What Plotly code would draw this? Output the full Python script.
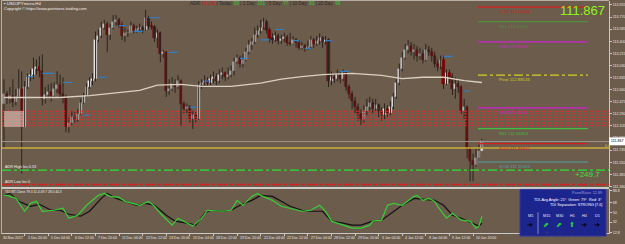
import plotly.graph_objects as go

# ------------------------------------------------------------------ DATA
first_open = 112.44
close_p = [112.59,112.52,112.56,112.47,112.55,112.67,112.09,112.70,112.85,112.88,
           112.97,113.00,112.94,112.52,112.58,112.62,112.56,112.67,112.73,112.59,
           112.55,112.09,112.15,112.24,112.20,112.29,112.45,112.56,112.70,112.79,
           112.82,113.42,113.48,113.61,113.67,113.50,113.61,113.70,113.73,113.65,
           113.48,113.52,113.53,113.64,113.56,113.59,113.61,113.58,113.76,113.64,
           113.62,113.45,113.52,113.20,113.23,112.64,112.67,112.74,112.70,112.79,
           112.44,112.36,112.39,112.21,112.27,112.21,112.73,112.76,112.79,112.76,
           112.82,112.85,112.79,112.88,112.91,112.85,112.89,112.94,113.09,113.15,
           113.05,113.12,113.24,113.35,113.39,113.50,113.55,113.61,113.70,113.58,
           113.45,113.42,113.48,113.41,113.44,113.47,113.38,113.36,113.42,113.38,
           113.30,113.33,113.29,113.32,113.42,113.36,113.41,113.45,113.39,113.42,
           112.79,112.85,112.82,112.88,112.83,112.91,112.70,112.59,112.48,112.39,
           112.29,112.21,112.33,112.39,112.45,112.36,112.42,112.33,112.27,112.36,
           112.30,112.39,112.55,112.76,112.97,113.15,113.27,113.33,113.24,113.27,
           113.18,113.21,113.12,113.27,113.24,113.18,113.06,113.00,113.12,112.74,
           112.91,112.85,112.67,112.74,112.70,112.33,112.39,111.76,111.57,111.51,
           111.61,111.73,111.87]
high_p = [112.82,112.64,112.70,112.82,112.67,112.97,112.94,112.79,112.91,112.97,
          113.15,113.12,113.17,113.20,112.70,112.74,112.76,112.77,112.94,112.89,
          112.85,112.58,112.24,112.33,112.32,112.36,112.52,112.61,112.76,112.85,
          112.91,113.55,113.58,113.70,113.73,113.70,113.67,113.80,113.80,113.76,
          113.70,113.61,113.58,113.70,113.67,113.64,113.67,113.64,113.88,113.79,
          113.70,113.65,113.58,113.55,113.27,113.24,112.82,112.85,112.82,112.88,
          112.82,112.48,112.45,112.42,112.33,112.32,112.79,112.82,112.88,112.85,
          112.89,112.94,112.91,112.97,113.00,112.94,113.00,113.03,113.15,113.20,
          113.18,113.21,113.30,113.42,113.45,113.61,113.64,113.73,113.76,113.73,
          113.61,113.52,113.55,113.52,113.50,113.53,113.50,113.53,113.48,113.45,
          113.42,113.39,113.36,113.41,113.48,113.45,113.48,113.52,113.48,113.48,
          113.45,112.94,112.91,112.97,112.94,112.97,112.94,112.74,112.64,112.55,
          112.45,112.36,112.42,112.52,112.55,112.52,112.52,112.45,112.39,112.45,
          112.42,112.48,112.61,112.82,113.06,113.24,113.36,113.42,113.39,113.36,
          113.33,113.30,113.27,113.36,113.33,113.30,113.24,113.12,113.18,113.18,
          112.97,112.97,112.91,112.85,112.82,112.73,112.52,112.42,111.79,111.68,
          111.76,111.82,111.91]
low_p = [111.76,112.44,112.45,112.39,112.42,112.52,111.38,112.09,112.67,112.79,
         112.82,112.89,112.85,112.42,112.45,112.52,112.48,112.55,112.61,112.52,
         112.45,112.01,112.00,112.12,112.14,112.17,112.27,112.44,112.55,112.67,
         112.73,112.79,113.39,113.45,113.58,113.24,113.42,113.58,113.64,113.61,
         113.42,113.39,113.47,113.52,113.52,113.53,113.55,113.52,113.56,113.58,
         113.58,113.39,113.30,113.08,113.15,112.55,112.58,112.64,112.61,112.67,
         112.11,112.30,112.30,112.15,112.06,112.15,112.20,112.67,112.70,112.70,
         112.73,112.76,112.73,112.76,112.82,112.79,112.82,112.85,112.88,113.06,
         113.00,113.00,113.09,113.20,113.27,113.36,113.45,113.52,113.58,113.52,
         113.38,113.36,113.39,113.35,113.36,113.39,113.33,113.33,113.35,113.30,
         113.27,113.27,113.24,113.27,113.29,113.30,113.33,113.35,113.30,113.35,
         112.70,112.73,112.76,112.79,112.76,112.79,112.64,112.52,112.36,112.30,
         112.18,112.12,112.15,112.27,112.33,112.30,112.33,112.24,112.18,112.21,
         112.24,112.27,112.36,112.52,112.73,112.94,113.12,113.21,113.18,113.12,
         113.09,113.12,113.06,113.09,113.18,113.09,113.00,112.94,112.97,112.67,
         112.73,112.76,112.58,112.52,112.61,112.29,112.21,111.61,111.26,111.26,
         111.48,111.61,111.76]

ma_idx = [0, 9, 19, 29, 40, 46, 52, 60, 67, 77, 87, 94, 101, 108, 118, 128, 135, 142, 149, 156, 162]
ma_val = [112.54, 112.54, 112.54, 112.57, 112.62, 112.65, 112.73, 112.74, 112.71, 112.71, 112.76,
          112.82, 112.86, 112.89, 112.91, 112.88, 112.83, 112.85, 112.85, 112.80, 112.77]

swing_start = [8, 13, 20, 27, 32, 39, 44, 49, 56, 63, 68, 80, 87, 92, 98, 102, 109, 114, 149, 156]
swing_end   = [10, 17, 23, 29, 35, 41, 47, 53, 59, 65, 70, 82, 90, 95, 100, 104, 111, 117, 152, 158]
swing_level = [112.86, 112.91, 112.77, 112.27, 112.85, 113.64, 113.55, 113.76, 113.23, 112.39,
               112.79, 113.14, 113.42, 113.58, 113.41, 113.29, 113.41, 112.94, 113.17, 112.64]

zone_levels = [112.33, 112.29, 112.24, 112.20, 112.15, 112.11]
bid_price = 111.867
gold_level = 111.77
adr_high_level = 111.43
adr_low_level = 111.21

piv_names  = ["R100", "R61", "R38", "Pivot", "S38", "S61", "S100", "S138"]
piv_values = [113.92148, 113.70108, 113.39109, 112.88133, 112.38159, 112.06303, 111.83610, 111.55433]
piv_colors = ["#d42020", "#4f8f3a", "#d020d0", "#d4d020", "#d020d0", "#3fbf3f", "#d42020", "#4aa0a0"]

tdi_black_idx = [0,2,5,9,12,16,19,22,26,29,33,35,38,41,45,48,51,55,58,62,65,68,70,74,77,80,84,87,91,94,
                 97,101,104,108,111,115,118,121,125,128,132,135,139,142,146,149,152,155,159,161,162]
tdi_black = [80.6,84.2,69.8,60.8,64.4,53.6,53.6,46.4,42.8,51.8,75.2,84.2,75.2,69.8,62.6,66.2,62.6,44.6,33.8,30.2,
             26.6,48.2,53.6,51.8,53.6,62.6,71.6,80.6,78.8,69.8,60.8,53.6,51.8,51.8,33.8,30.2,26.6,26.6,33.8,35.6,
             51.8,62.6,75.2,73.4,71.6,62.6,44.6,39.2,30.2,24.8,30.2]
tdi_green_idx = [0,1,4,7,9,11,13,17,20,22,25,28,32,34,36,39,41,44,46,49,51,53,57,59,61,64,67,69,74,77,79,81,
                 84,86,87,91,94,97,101,104,107,109,111,115,118,121,124,125,128,130,132,135,139,140,142,144,146,
                 147,150,152,155,158,160,161,162]
tdi_green = [80.6,80.6,75.2,51.8,66.2,69.8,51.8,53.6,57.2,39.2,44.6,62.6,80.6,84.2,78.8,77.0,69.8,66.2,62.6,69.8,
             60.8,48.2,26.6,39.2,33.8,24.8,39.2,53.6,51.8,53.6,71.6,62.6,78.8,84.2,80.6,71.6,60.8,57.2,51.8,53.6,
             62.6,51.8,33.8,26.6,21.2,21.2,26.6,33.8,35.6,62.6,66.2,62.6,78.8,80.6,71.6,75.2,69.8,60.8,39.2,48.2,
             35.6,33.8,21.2,24.8,42.8]

price_ticks = [113.955,113.770,113.585,113.400,113.215,113.030,112.845,112.660,112.475,112.290,
               112.105,111.920,111.735,111.550,111.365,111.180]
tdi_ticks = [88.8, 68.0, 50.0, 32.0, 12.8]
tdi_tick_text = ["88.8", "68", "50", "32", "12.8"]

date_idx = [7, 15, 23, 31, 39, 47, 55, 63, 71, 79, 87, 95, 103, 111, 119, 127, 135, 143, 151, 159]
date_text = ["1 Dec 20:00", "5 Dec 04:00", "6 Dec 12:00", "7 Dec 20:00", "11 Dec 04:00", "12 Dec 12:00",
             "13 Dec 20:00", "15 Dec 04:00", "18 Dec 12:00", "19 Dec 20:00", "21 Dec 04:00", "22 Dec 12:00",
             "27 Dec 04:00", "28 Dec 12:00", "29 Dec 20:00", "3 Jan 04:00", "4 Jan 12:00", "8 Jan 04:00",
             "9 Jan 12:00", "10 Jan 20:00"]

adr_parts = [("ADR: ", "#2a2a2a"), ("91.2%", "#d41818"), (" | Today: ", "#2a2a2a"), ("58", "#2ed12e"),
             (" | 1 Day: ", "#2a2a2a"), ("151", "#2ed12e"), (" | 5 Day: ", "#2a2a2a"), ("77", "#2ed12e"),
             (" | 10 Day: ", "#2a2a2a"), ("83", "#2ed12e"), (" | 20 Day: ", "#2a2a2a"), ("99", "#2ed12e")]

tf_names = ["M5", "M15", "M30", "H1", "H4", "D1"]
tf_arrows = ["➔", "⬈", "⬈", "⬆", "➔", "➔"]
tf_arrow_colors = ["#000000", "#2fd02f", "#2fd02f", "#2fd02f", "#000000", "#000000"]
tf_marks = ["+", "⊕", "⊘", "O", "O", "O"]

# ------------------------------------------------------------------ LAYOUT HELPERS
W, H = 625, 244
BG = "#6c5c4c"
FONT = "Liberation Sans, Arial, sans-serif"
SPACING = 2.95
X0PIX = 4.0
XR = [(2 - X0PIX) / SPACING, (609 - X0PIX) / SPACING]


def px(x):
    return x / W


def py(y):
    return 1 - y / H


open_p = [first_open] + close_p[:-1]
idx = list(range(len(close_p)))

fig = go.Figure()

# wicks
wx, wy = [], []
for i in idx:
    wx += [i, i, None]
    wy += [low_p[i], high_p[i], None]
fig.add_trace(go.Scatter(x=wx, y=wy, mode="lines", line=dict(color="#2b231d", width=1),
                         hoverinfo="skip", xaxis="x", yaxis="y"))

# bodies
up = [i for i in idx if close_p[i] >= open_p[i]]
dn = [i for i in idx if close_p[i] < open_p[i]]
fig.add_trace(go.Bar(x=up, base=[open_p[i] for i in up], y=[close_p[i] - open_p[i] for i in up],
                     width=0.72, marker=dict(color="#f4f4f4", line=dict(color="#b8b8b8", width=0.5)),
                     xaxis="x", yaxis="y"))
fig.add_trace(go.Bar(x=dn, base=[close_p[i] for i in dn], y=[open_p[i] - close_p[i] for i in dn],
                     width=0.72, marker=dict(color="#8a0808", line=dict(color="#5a0404", width=0.5)),
                     xaxis="x", yaxis="y"))

# moving average
fig.add_trace(go.Scatter(x=ma_idx, y=ma_val, mode="lines", line=dict(color="#d9d0c2", width=1.3),
                         xaxis="x", yaxis="y"))

# swing marks
sx, sy = [], []
for a, b, v in zip(swing_start, swing_end, swing_level):
    sx += [a, b, None]
    sy += [v, v, None]
fig.add_trace(go.Scatter(x=sx, y=sy, mode="lines", line=dict(color="#2f7fd0", width=1.2),
                         xaxis="x", yaxis="y"))

# TDI lines
fig.add_trace(go.Scatter(x=tdi_black_idx, y=tdi_black, mode="lines", line=dict(color="#111111", width=1.2),
                         xaxis="x", yaxis="y2"))
fig.add_trace(go.Scatter(x=tdi_green_idx, y=tdi_green, mode="lines", line=dict(color="#35d035", width=1.2),
                         xaxis="x", yaxis="y2"))

shapes = []
for lv in zone_levels:
    shapes.append(dict(type="line", xref="x domain", yref="y", x0=0, x1=1, y0=lv, y1=lv,
                       line=dict(color="#d83030", width=1, dash="dot")))
shapes.append(dict(type="line", xref="x domain", yref="y", x0=0, x1=1, y0=bid_price, y1=bid_price,
                   line=dict(color="#9b958f", width=1)))
shapes.append(dict(type="line", xref="x domain", yref="y", x0=0, x1=1, y0=gold_level, y1=gold_level,
                   line=dict(color="#c9ad3c", width=1.5)))
shapes.append(dict(type="line", xref="x domain", yref="y", x0=0, x1=1, y0=adr_high_level, y1=adr_high_level,
                   line=dict(color="#2ee02e", width=1.3, dash="dashdot")))
shapes.append(dict(type="line", xref="x domain", yref="y", x0=0, x1=1, y0=adr_low_level, y1=adr_low_level,
                   line=dict(color="#d82020", width=1.3, dash="dashdot")))

PIV_X0 = (478 - X0PIX) / SPACING
PIV_X1 = (588 - X0PIX) / SPACING
for name, val, col in zip(piv_names, piv_values, piv_colors):
    shapes.append(dict(type="line", xref="x", yref="y", x0=PIV_X0, x1=PIV_X1, y0=val, y1=val,
                       line=dict(color=col, width=1.2, dash="dashdot" if name == "Pivot" else "solid")))

shapes.append(dict(type="rect", xref="paper", yref="paper", x0=px(4), x1=px(24), y0=py(128), y1=py(112),
                   fillcolor="rgba(232,214,204,0.55)", line=dict(width=0)))
shapes.append(dict(type="line", xref="paper", yref="paper", x0=px(2), x1=px(609), y0=py(189.5), y1=py(189.5),
                   line=dict(color="#f0f0f0", width=1.5)))
shapes.append(dict(type="line", xref="paper", yref="paper", x0=px(1.5), x1=px(1.5), y0=py(236), y1=py(0.5),
                   line=dict(color="#b8b0a8", width=1)))
shapes.append(dict(type="line", xref="paper", yref="paper", x0=px(1.5), x1=px(609), y0=py(0.5), y1=py(0.5),
                   line=dict(color="#b8b0a8", width=1)))
shapes.append(dict(type="rect", xref="paper", yref="paper", x0=px(520), x1=px(606), y0=py(238), y1=py(191),
                   fillcolor="#1c248e", line=dict(color="#30389e", width=1)))
shapes.append(dict(type="line", xref="paper", yref="paper", x0=px(538), x1=px(538), y0=py(236), y1=py(214),
                   line=dict(color="#8088c0", width=1)))
shapes.append(dict(type="rect", xref="paper", yref="paper", x0=px(609), x1=px(625), y0=py(146.5), y1=py(138.5),
                   fillcolor="#ffffff", line=dict(width=0)))

ann = []


def txt(x, y, s, size=4.2, color="#ffffff", xanchor="left", yanchor="middle", xref="paper", yref="paper"):
    ann.append(dict(x=x, y=y, xref=xref, yref=yref, text=s, showarrow=False, xanchor=xanchor,
                    yanchor=yanchor, font=dict(family=FONT, size=size, color=color)))


txt(px(2), py(3.5), "▪ USDJPYmicro,H4", 4.3, "#f4f4f4")
txt(px(2), py(8.5), "Copyright © https://www.pointzero-trading.com", 4.0, "#f0f0f0")
adr_html = "".join("<span style='color:%s'>%s</span>" % (c, t.replace(" ", "&nbsp;")) for t, c in adr_parts)
txt(px(188), py(4), adr_html, 4.6, "#2a2a2a")

txt(px(607), py(10.5), "111.867", 13, "#8cf51c", xanchor="right")

for name, val, col in zip(piv_names, piv_values, piv_colors):
    txt((497 - X0PIX) / SPACING, val, f"{name} {val:.5f}", 4.3, col, xanchor="left", yanchor="top",
        xref="x", yref="y")

txt(px(602), py(176), "+249.7", 8, "#3fe03f", xanchor="right")
txt(px(602.5), py(147.5), "0.0", 3.8, "#d8c040", xanchor="left")
txt(px(617), py(142.5), "111.867", 3.6, "#000000", xanchor="center")

txt(px(3), py(168.5), "ADR High lev 0.53", 3.8, "#f0f0f0")
txt(px(3), py(183.5), "ADR Low lev 0", 3.8, "#f0f0f0")
txt(px(2.5), py(194), "TDI-RT-Clone 79.3 11.4 49.7 28.0 40.3", 3.3, "#f0f0f0")

txt(px(604), py(195), "PanelRatio: 12.89", 3.8, "#9aa0d8", xanchor="right")
txt(px(604), py(201.5), "TDI-Avg Angle: 21°  Green: 79°  Red: 3°", 3.8, "#ffffff", xanchor="right")
txt(px(604), py(207), "TDI Separation: STRONG [7.6]", 3.8, "#ffffff", xanchor="right")
tf_x = [530, 546, 559, 572, 584, 597]
for xx, nm, ar, ac, mk in zip(tf_x, tf_names, tf_arrows, tf_arrow_colors, tf_marks):
    txt(px(xx), py(218), nm, 3.8, "#e8e8f4", xanchor="center")
    txt(px(xx), py(226.5), ar, 6.5, ac, xanchor="center")
    txt(px(xx), py(234.5), mk, 4, "#3a3a60", xanchor="center")

txt(px(1), py(240), "30 Nov 2017", 3.5, "#e8e8e8")
for di, dt in zip(date_idx, date_text):
    txt(di + 0.3, py(240), dt, 3.5, "#e8e8e8", xref="x")

fig.update_layout(
    width=W, height=H, margin=dict(l=0, r=0, t=0, b=0),
    paper_bgcolor=BG, plot_bgcolor=BG, showlegend=False, barmode="overlay", bargap=0,
    shapes=shapes, annotations=ann,
    xaxis=dict(domain=[px(2), px(609)], range=XR, anchor="y2", showgrid=False, zeroline=False,
               showline=True, linecolor="#c8c8c8", linewidth=1, tickvals=date_idx, ticks="outside",
               ticklen=2, tickcolor="#c8c8c8", showticklabels=False, fixedrange=True),
    yaxis=dict(domain=[py(189), py(1)], range=[111.165, 114.016], side="right", anchor="x",
               showgrid=False, zeroline=False, showline=True, linecolor="#c8c8c8", linewidth=1,
               tickvals=price_ticks, ticktext=[f"{v:.3f}" for v in price_ticks], ticks="outside",
               ticklen=2, tickcolor="#c8c8c8", tickfont=dict(family=FONT, size=3.6, color="#e8e8e8")),
    yaxis2=dict(domain=[py(235), py(191)], range=[12.2, 91.4], side="right", anchor="x",
                showgrid=False, zeroline=False, showline=True, linecolor="#c8c8c8", linewidth=1,
                tickvals=tdi_ticks, ticktext=tdi_tick_text, ticks="outside", ticklen=2, tickcolor="#c8c8c8",
                tickfont=dict(family=FONT, size=3.6, color="#e8e8e8")),
)

fig.write_html("out.html")
